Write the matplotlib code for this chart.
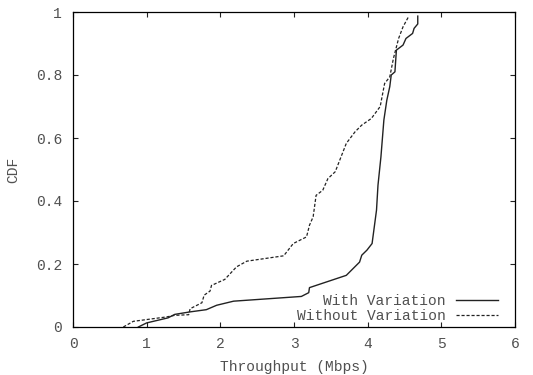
import matplotlib
matplotlib.use("Agg")
import matplotlib.pyplot as plt

with_x = [0.887, 1.0, 1.29, 1.38, 1.59, 1.81, 1.95, 2.18, 3.10, 3.20, 3.21, 3.71, 3.89, 3.92, 3.99, 4.06,
          4.12, 4.14, 4.18, 4.22, 4.26, 4.30, 4.32, 4.37, 4.39, 4.48, 4.52, 4.61, 4.63, 4.68, 4.68]
with_y = [0.0, 0.013, 0.029, 0.040, 0.048, 0.055, 0.069, 0.082, 0.097, 0.109, 0.125, 0.164, 0.206, 0.228, 0.244, 0.265,
          0.371, 0.45, 0.54, 0.657, 0.72, 0.763, 0.80, 0.81, 0.879, 0.895, 0.916, 0.932, 0.948, 0.962, 0.987]

without_x = [0.683, 0.819, 1.27, 1.38, 1.57, 1.59, 1.75, 1.78, 1.86, 1.88, 2.06, 2.22, 2.36, 2.86, 2.99, 3.17,
             3.21, 3.26, 3.30, 3.39, 3.46, 3.56, 3.71, 3.83, 3.92, 4.05, 4.17, 4.23, 4.30, 4.35, 4.42, 4.48, 4.55]
without_y = [0.0, 0.018, 0.032, 0.037, 0.039, 0.058, 0.077, 0.101, 0.114, 0.132, 0.151, 0.191, 0.209, 0.226, 0.265, 0.286,
             0.323, 0.350, 0.418, 0.434, 0.471, 0.493, 0.583, 0.620, 0.641, 0.662, 0.70, 0.773, 0.794, 0.853, 0.916, 0.953, 0.983]

labels = ["With Variation", "Without Variation"]
xticks = [0, 1, 2, 3, 4, 5, 6]
yticks = [0, 0.2, 0.4, 0.6, 0.8, 1]
ytick_labels = ["0", "0.2", "0.4", "0.6", "0.8", "1"]

plt.rcParams['font.family'] = ['Liberation Mono', 'DejaVu Sans Mono']
fs = 10.5
tc = '#505050'

fig = plt.figure(figsize=(5.33, 3.75), dpi=100)
ax = fig.add_axes([73/533, 1-327/375, (515-73)/533, (327-12)/375])

ax.plot(with_x, with_y, color='#222222', lw=1.0, label=labels[0])
ax.plot(without_x, without_y, color='#222222', lw=0.9, linestyle=(0, (2.5, 1.5)), label=labels[1])

ax.set_xlim(0, 6)
ax.set_ylim(0, 1)
ax.set_xticks(xticks)
ax.set_xticklabels([str(t) for t in xticks])
ax.set_yticks(yticks)
ax.set_yticklabels(ytick_labels)
ax.tick_params(direction='in', top=True, right=True, length=3.3, width=0.8, labelsize=fs, colors='#222222',
               labelcolor=tc)
ax.tick_params(axis='x', pad=7)
ax.tick_params(axis='y', pad=8)
for s in ax.spines.values():
    s.set_linewidth(0.9)
ax.set_xlabel("Throughput (Mbps)", fontsize=fs, color=tc, labelpad=7)
ax.set_ylabel("CDF", fontsize=fs, color=tc, labelpad=11)

leg = ax.legend(loc='lower right', frameon=False, markerfirst=False, fontsize=fs,
                handlelength=2.9, handletextpad=0.7, labelspacing=0.05, borderaxespad=0.0,
                bbox_to_anchor=(0.975, -0.005))
for t in leg.get_texts():
    t.set_color(tc)

fig.savefig("out.png", dpi=100)
